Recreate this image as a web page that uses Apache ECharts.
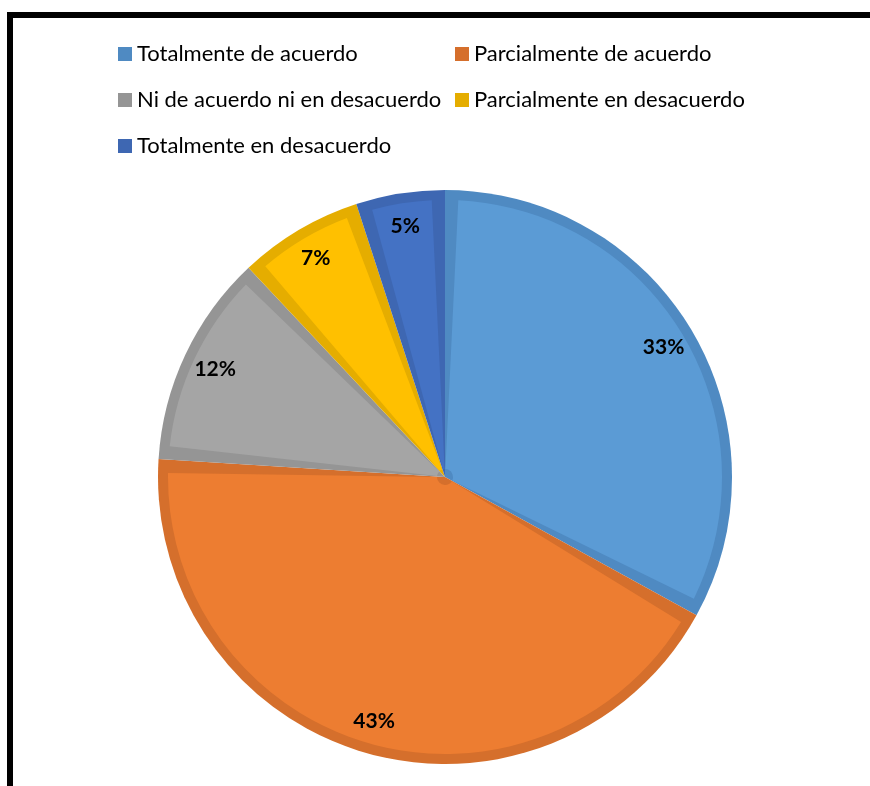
<!DOCTYPE html>
<html lang="es">
<head>
    <meta charset="utf-8">
    <title>Pie</title>
    <script src="https://cdn.jsdelivr.net/npm/echarts@6/dist/echarts.min.js"></script>
    <style>
        * { margin: 0; padding: 0; }
        #main { width: 870px; height: 786px; background: #fff; }
    </style>
</head>
<body>
<div id="main"></div>
<script>
    // datos del grafico
    const categories = ['Totalmente de acuerdo', 'Parcialmente de acuerdo', 'Ni de acuerdo ni en desacuerdo',
        'Parcialmente en desacuerdo', 'Totalmente en desacuerdo'];
    const values = [33, 43, 12, 7, 5];
    const fillColors = ['#5B9BD5', '#ED7D31', '#A5A5A5', '#FFC000', '#4472C4'];
    const edgeColors = ['#4F8AC2', '#D56F2C', '#959595', '#E5AD00', '#3E67B2'];

    const font = 'Lato, "Open Sans", sans-serif';
    const center = [445, 477];

    const chart = echarts.init(document.getElementById('main'), null, { renderer: 'canvas' });

    const option = {
        animation: false,
        legend: {
            left: 118,
            top: 35,
            padding: 0,
            width: 700,
            itemWidth: 14,
            itemHeight: 14,
            itemGap: 8,
            icon: 'rect',
            data: categories,
            textStyle: { fontFamily: font, fontSize: 22, color: '#000', width: 310, lineHeight: 38 }
        },
        graphic: [{
            type: 'rect',
            shape: { x: 10, y: 15, width: 1000, height: 1000 },
            style: { fill: 'none', stroke: '#000', lineWidth: 6 },
            silent: true
        }],
        series: [
            {
                // borde oscuro de cada sector
                type: 'pie',
                center: center,
                radius: 287,
                silent: true,
                label: { show: false },
                labelLine: { show: false },
                data: categories.map((c, i) => ({ name: c, value: values[i], itemStyle: { color: edgeColors[i] } }))
            },
            {
                // relleno claro
                type: 'pie',
                center: center,
                radius: [8, 277],
                padAngle: 5.5,
                silent: true,
                label: { show: false },
                labelLine: { show: false },
                data: categories.map((c, i) => ({ name: c, value: values[i], itemStyle: { color: fillColors[i] } }))
            },
            {
                // etiquetas de porcentaje
                type: 'pie',
                center: center,
                radius: [220, 282],
                silent: true,
                itemStyle: { color: 'transparent' },
                label: {
                    show: true,
                    position: 'inside',
                    formatter: '{c}%',
                    fontFamily: font,
                    fontSize: 21,
                    fontWeight: 'bold',
                    color: '#000'
                },
                labelLine: { show: false },
                data: categories.map((c, i) => ({ name: c, value: values[i] }))
            }
        ]
    };

    chart.setOption(option);
</script>
</body>
</html>
